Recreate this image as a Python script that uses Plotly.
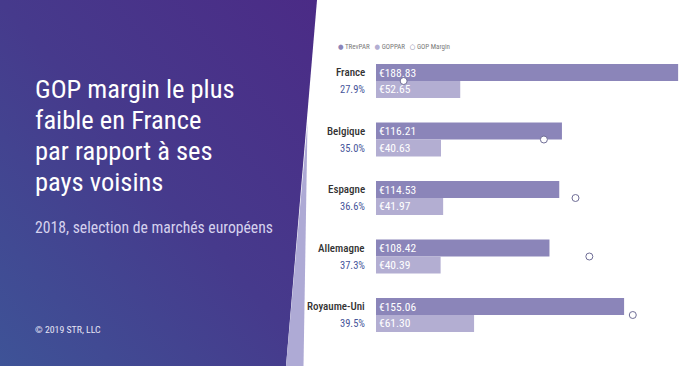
import base64
import plotly.graph_objects as go

countries = ["France", "Belgique", "Espagne", "Allemagne", "Royaume-Uni"]
trevpar = [188.83, 116.21, 114.53, 108.42, 155.06]
goppar = [52.65, 40.63, 41.97, 40.39, 61.30]
gop_margin = [27.9, 35.0, 36.6, 37.3, 39.5]

series_names = ["TRevPAR", "GOPPAR", "GOP Margin"]
title_lines = ["GOP margin le plus", "faible en France", "par rapport à ses", "pays voisins"]
subtitle = "2018, selection de marchés européens"
credit = "© 2019 STR, LLC"

W, H = 700, 366
FONT = "Roboto Condensed, DejaVu Sans Condensed, sans-serif"
C_TREV = "#8b85b9"
C_GOP = "#b3aed2"
C_MARG = "#6f6d96"

svg = f"""<svg xmlns='http://www.w3.org/2000/svg' width='320' height='{H}' viewBox='0 0 320 {H}' preserveAspectRatio='none'>
<defs><linearGradient id='g' x1='1' y1='0' x2='0' y2='1'>
<stop offset='0' stop-color='#4b2b86'/><stop offset='0.5' stop-color='#463a8c'/><stop offset='1' stop-color='#3e5397'/>
</linearGradient></defs>
<polygon points='0,0 317,0 286,{H} 0,{H}' fill='url(#g)'/>
<polygon points='307.5,123 303.5,{H} 286,{H}' fill='#aeaad5'/>
</svg>"""
src = "data:image/svg+xml;base64," + base64.b64encode(svg.encode()).decode()

fig = go.Figure()
fig.add_trace(go.Bar(
    y=countries, x=trevpar, orientation="h", name=series_names[0],
    marker=dict(color=C_TREV, line=dict(width=0)),
    text=[f"€{v:.2f}" for v in trevpar], textposition="inside", insidetextanchor="start",
    constraintext="none", textangle=0,
    textfont=dict(color="white", size=11.5, family=FONT), showlegend=False,
))
fig.add_trace(go.Bar(
    y=countries, x=goppar, orientation="h", name=series_names[1],
    marker=dict(color=C_GOP, line=dict(width=0)),
    text=[f"€{v:.2f}" for v in goppar], textposition="inside", insidetextanchor="start",
    constraintext="none", textangle=0,
    textfont=dict(color="white", size=11.5, family=FONT), showlegend=False,
))
fig.add_trace(go.Scatter(
    y=countries, x=gop_margin, xaxis="x2", mode="markers", name=series_names[2],
    marker=dict(symbol="circle", size=7, color="white", line=dict(color=C_MARG, width=1)),
    showlegend=False,
))

ann = []
for c, m in zip(countries, gop_margin):
    ann.append(dict(xref="paper", yref="y", x=367 / W, y=c, xanchor="right", yanchor="middle",
                    text=c, yshift=8.5, showarrow=False,
                    font=dict(size=11, color="#333333", family=FONT, weight=500)))
    ann.append(dict(xref="paper", yref="y", x=367 / W, y=c, xanchor="right", yanchor="middle",
                    text=f"{m:.1f}%", yshift=-8.5, showarrow=False,
                    font=dict(size=10.5, color="#46559a", family=FONT)))

legend_txt = (f"<span style='color:{C_TREV}'>●</span> {series_names[0]}   "
              f"<span style='color:{C_GOP}'>●</span> {series_names[1]}   "
              f"<span style='color:{C_MARG}'>○</span> {series_names[2]}")
ann.append(dict(xref="paper", yref="paper", x=336 / W, y=1 - 47 / H, xanchor="left", yanchor="middle",
                text=legend_txt, showarrow=False, font=dict(size=7, color="#7a7a7a", family=FONT)))

for i, line in enumerate(title_lines):
    ann.append(dict(xref="paper", yref="paper", x=33 / W, y=1 - (88 + 31 * i) / H,
                    xanchor="left", yanchor="middle", text=line, showarrow=False,
                    font=dict(size=26.5, color="white", family=FONT)))
ann.append(dict(xref="paper", yref="paper", x=33 / W, y=1 - 227 / H, xanchor="left", yanchor="middle",
                text=subtitle, showarrow=False, font=dict(size=15.7, color="#d6d2ee", family=FONT)))
ann.append(dict(xref="paper", yref="paper", x=33 / W, y=1 - 329 / H, xanchor="left", yanchor="middle",
                text=credit, showarrow=False, font=dict(size=9.8, color="#e6e4f4", family=FONT)))

fig.update_layout(
    width=W, height=H,
    margin=dict(l=0, r=0, t=0, b=0),
    paper_bgcolor="white", plot_bgcolor="white",
    barmode="group", bargap=0.42, bargroupgap=0,
    xaxis=dict(domain=[376 / W, 696 / W], range=[0, 200], visible=False, fixedrange=True),
    xaxis2=dict(overlaying="x", range=[26.5, 42.7], visible=False),
    yaxis=dict(domain=[(H - 344.25) / H, (H - 51.75) / H], autorange="reversed", visible=False),
    images=[dict(source=src, xref="paper", yref="paper", x=0, y=1, sizex=320 / W, sizey=1,
                 xanchor="left", yanchor="top", sizing="stretch", layer="below")],
    annotations=ann,
    showlegend=False,
)

fig.write_html("out.html", config={"displayModeBar": False},
               post_script="document.body.style.margin='0';")
